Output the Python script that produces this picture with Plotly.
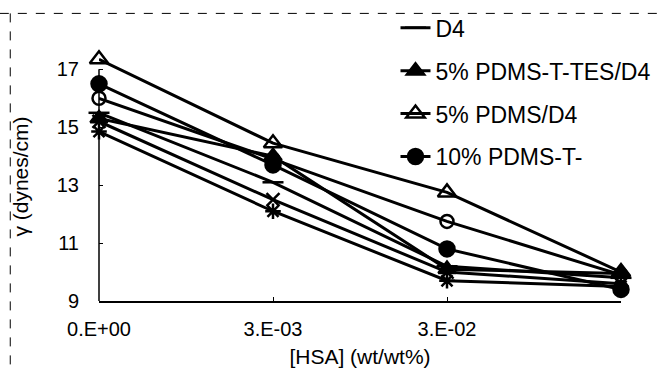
import plotly.graph_objects as go

categories = ["0.E+00", "3.E-03", "3.E-02", "3.E-01"]
tick_labels = ["0.E+00", "3.E-03", "3.E-02"]

d4 = [15.5, 13.1, 10.2, 9.8]
pdms_t_tes_5 = [15.3, 14.0, 10.1, 9.95]
pdms_5 = [17.35, 14.45, 12.75, 10.0]
pdms_t_tes_10 = [16.5, 13.7, 10.8, 9.4]
pdms_10 = [16.0, 13.9, 11.75, 9.9]
series_x = [15.2, 12.5, 10.0, 9.6]
series_star = [14.85, 12.1, 9.7, 9.5]

names = ["D4", "5% PDMS-T-TES/D4", "5% PDMS/D4", "10% PDMS-T-", "10% PDMS/D4", "x", "star"]
values = [d4, pdms_t_tes_5, pdms_5, pdms_t_tes_10, pdms_10, series_x, series_star]
symbols = ["line-ew-open", "triangle-up", "triangle-up-open", "circle", "circle-open", "x-thin-open", "asterisk-open"]
sizes = [15, 15, 16, 15, 13, 13, 13]
show = [True, True, True, True, False, False, False]

fig = go.Figure()
for i, (n, v, s, sz, sh) in enumerate(zip(names, values, symbols, sizes, show)):
    fig.add_trace(go.Scatter(
        x=categories, y=v, name=n, mode="lines+markers",
        line=dict(color="black", width=3),
        marker=dict(symbol=s, size=sz, color="black",
                    line=dict(color="black", width=2.5)),
        cliponaxis=False, showlegend=sh, legendgroup=f"g{i}",
    ))

font = "Arial, Liberation Sans, sans-serif"
fig.update_layout(
    width=664, height=373,
    margin=dict(l=99, r=43, t=52, b=72, autoexpand=False),
    paper_bgcolor="white", plot_bgcolor="white",
    font=dict(family=font, color="black", size=20),
    showlegend=True,
    legend=dict(x=0.568, y=0.983, xref="paper", yref="container", xanchor="left", yanchor="top",
                font=dict(size=23, family=font), tracegroupgap=10,
                bgcolor="rgba(0,0,0,0)"),
    xaxis=dict(type="category", categoryorder="array", categoryarray=categories,
               range=[0, 3], tickmode="array", tickvals=categories[:3], ticktext=tick_labels,
               showline=True, linecolor="black", linewidth=1.5,
               ticks="inside", ticklen=4, tickcolor="black", ticklabelstandoff=9,
               showgrid=False, zeroline=False,
               title=dict(text="[HSA] (wt/wt%)", font=dict(size=21), standoff=11)),
    yaxis=dict(range=[9, 17.6], tickvals=[9, 11, 13, 15, 17],
               showline=False,
               ticks="inside", ticklen=4, tickcolor="black", ticklabelstandoff=19,
               showgrid=False, zeroline=False,
               title=dict(text="γ (dynes/cm)", font=dict(size=21), standoff=22)),
)
fig.add_shape(type="line", xref="paper", yref="y", x0=0, x1=0, y0=9, y1=17,
              line=dict(color="black", width=1.5))
fig.add_shape(type="line", xref="paper", yref="paper", x0=-0.19, x1=1.1, y0=1.155, y1=1.155,
              line=dict(color="black", width=1, dash="dash"))
fig.add_shape(type="line", xref="paper", yref="paper", x0=-0.17, x1=-0.17, y0=1.155, y1=-0.29,
              line=dict(color="black", width=1, dash="dash"))
fig.write_html("out.html")
